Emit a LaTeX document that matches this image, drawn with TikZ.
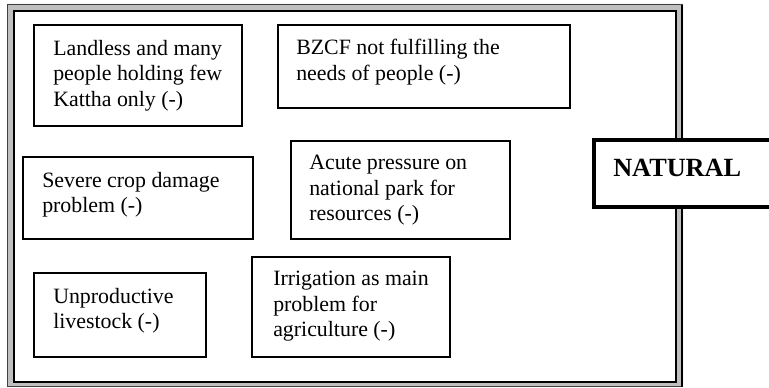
\documentclass[tikz,border=0pt]{standalone}
\usepackage{fontspec}
\setmainfont{Liberation Serif}
\usetikzlibrary{fit}
\begin{document}
\begin{tikzpicture}[x=0.75pt,y=-0.75pt,
  box/.style={draw=black, line width=1.1pt, inner sep=0pt, fill=white},
  natbox/.style={draw=black, line width=2.3pt, inner sep=0pt, fill=white},
  txt/.style={inner sep=0pt, align=left, anchor=west,
    font={\fontsize{16.4pt}{19.1pt}\selectfont}},
  nattxt/.style={inner sep=0pt, anchor=west,
    font={\fontsize{19.7pt}{22pt}\selectfont\bfseries}}]
\useasboundingbox (0,0) rectangle (769,388);
\fill[white] (0,0) rectangle (769,388);
% outer frame
\fill[gray!50, even odd rule] (7,4) rectangle (683,387) (14,11) rectangle (676,382);
\draw[black!75, line width=0.9pt] (7.5,4.5) rectangle (682.5,386.5);
\draw[black, line width=1.2pt] (14,11) rectangle (676,382);
\draw[black, line width=1.5pt] (682,5) -- (682,387);
% boxes
\node[box, fit={(34,25)(242,126)}] (b1) {};
\node[txt] (t1) at (53,75.5) {Landless and many\\people holding few\\Kattha only (-)};
\node[box, fit={(278,25)(570,108)}] (b2) {};
\node[txt] (t2) at (296,62) {BZCF not fulfilling the\\needs of people (-)};
\node[box, fit={(23,157)(253,239)}] (b3) {};
\node[txt] (t3) at (42,195) {Severe crop damage\\problem (-)};
\node[box, fit={(291,141)(510,239)}] (b4) {};
\node[txt] (t4) at (309,190.5) {Acute pressure on\\national park for\\resources (-)};
\node[box, fit={(34,273)(206,357)}] (b5) {};
\node[txt] (t5) at (53,310.5) {Unproductive\\livestock (-)};
\node[box, fit={(252,257)(450,357)}] (b6) {};
\node[txt] (t6) at (273,306.5) {Irrigation as main\\problem for\\agriculture (-)};
\node[natbox, fit={(594,140)(775,207)}] (nb) {};
\node[nattxt] (nt) at (613,168) {NATURAL};
\end{tikzpicture}
\end{document}
